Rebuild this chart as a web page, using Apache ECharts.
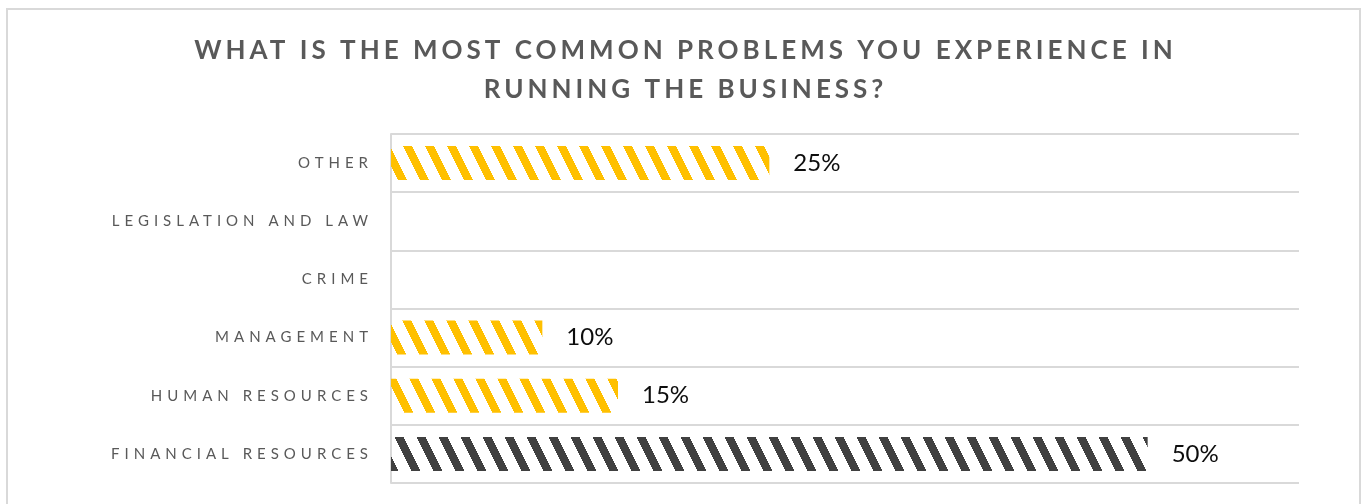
<!DOCTYPE html>
<html>
<head>
<meta charset="utf-8">
<script src="https://cdn.jsdelivr.net/npm/echarts@6/dist/echarts.min.js"></script>
<style>
  html, body { margin: 0; padding: 0; background: #ffffff; }
  #chart { width: 1367px; height: 504px; }
</style>
</head>
<body>
<div id="chart"></div>
<script>
// Survey answers, listed bottom to top as they appear on the axis
const categories = ['FINANCIAL RESOURCES', 'HUMAN RESOURCES', 'MANAGEMENT', 'CRIME', 'LEGISLATION AND LAW', 'OTHER'];
const shares = [50, 15, 10, 0, 0, 25];
const highlighted = ['FINANCIAL RESOURCES'];
const titleLines = ['WHAT IS THE MOST COMMON PROBLEMS YOU EXPERIENCE IN', 'RUNNING THE BUSINESS?'];

// Tracked capitals: canvas letter spacing picked by font size
const spacingBySize = { '15px': 5, '26px': 4 };
const baseFillText = CanvasRenderingContext2D.prototype.fillText;
CanvasRenderingContext2D.prototype.fillText = function (text, x, y, maxWidth) {
  const m = /(\d+)px/.exec(this.font);
  const sp = (m && spacingBySize[m[0]]) || 0;
  this.letterSpacing = sp + 'px';
  let dx = 0;
  if (sp) {
    // the trailing gap after the last letter is not part of the visible text
    if (this.textAlign === 'right' || this.textAlign === 'end') dx = sp;
    else if (this.textAlign === 'center') dx = sp / 2;
  }
  baseFillText.call(this, text, x + dx, y);
  this.letterSpacing = '0px';
};

// Diagonal hatch tile
function hatch(color) {
  const w = 22, h = 44, band = 9;
  const c = document.createElement('canvas');
  c.width = w; c.height = h;
  const g = c.getContext('2d');
  g.fillStyle = color;
  for (let y = 0; y < h; y++) {
    const x0 = Math.round(y * w / h);
    g.fillRect(x0, y, band, 1);
    if (x0 + band > w) g.fillRect(x0 - w, y, band, 1);
  }
  return c;
}
const yellowTile = hatch('#ffc000');
const darkTile = hatch('#404040');

const chart = echarts.init(document.getElementById('chart'), null, { renderer: 'canvas' });
chart.setOption({
  animation: false,
  backgroundColor: '#ffffff',
  title: {
    text: titleLines.join('\n'),
    left: 'center',
    top: 26,
    textStyle: {
      fontFamily: 'Lato',
      fontSize: 26,
      fontWeight: 'bold',
      color: '#595959',
      lineHeight: 39
    }
  },
  graphic: [{
    type: 'rect',
    silent: true,
    z: -1,
    shape: { x: 7, y: 9, width: 1353, height: 520 },
    style: { fill: 'none', stroke: '#d9d9d9', lineWidth: 2 }
  }],
  grid: { left: 391, right: 68, top: 134, bottom: 21, containLabel: false },
  xAxis: {
    type: 'value',
    min: 0,
    max: 60,
    show: false
  },
  yAxis: {
    type: 'category',
    data: categories,
    axisTick: { show: false },
    axisLine: { show: true, lineStyle: { color: '#d9d9d9', width: 2 } },
    splitLine: { show: true, lineStyle: { color: '#d9d9d9', width: 2 } },
    axisLabel: {
      color: '#595959',
      fontFamily: 'Lato',
      fontSize: 15,
      margin: 23
    }
  },
  series: [{
    type: 'bar',
    silent: true,
    barWidth: 34,
    data: shares.map((v, i) => ({
      value: v,
      itemStyle: {
        color: { image: highlighted.includes(categories[i]) ? darkTile : yellowTile, repeat: 'repeat' }
      }
    })),
    label: {
      show: true,
      position: 'right',
      distance: 24,
      formatter: p => (p.value ? p.value + '%' : ''),
      color: '#0d0d0d',
      fontFamily: 'Lato',
      fontSize: 24
    }
  }]
});
</script>
</body>
</html>
